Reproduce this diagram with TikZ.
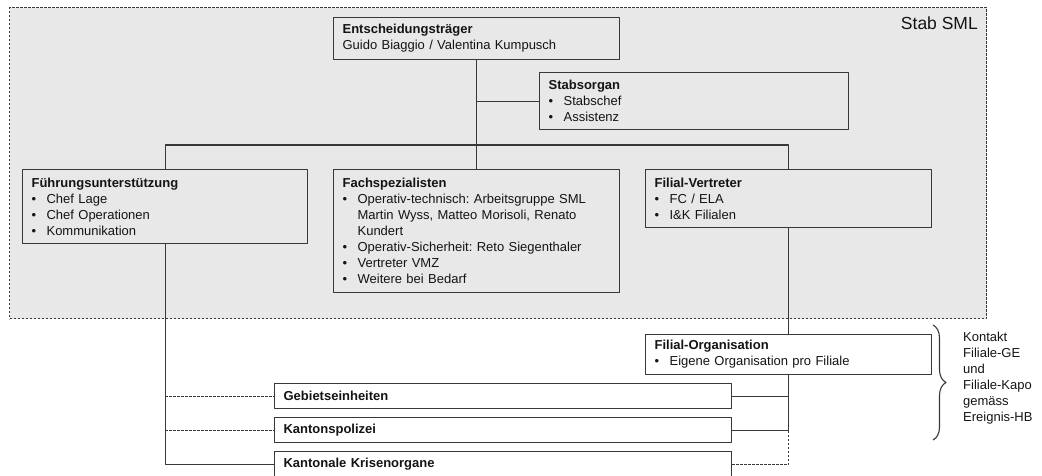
\documentclass[tikz,border=0pt]{standalone}
\usepackage{fontspec}
\setmainfont{Liberation Sans}
\usetikzlibrary{decorations.pathreplacing}
\definecolor{stabgrau}{HTML}{E8E8E8}
\definecolor{strich}{HTML}{383838}
\definecolor{schrift}{HTML}{141414}
\newcommand{\punkt}{\makebox[15pt][l]{\textbullet}}
\newcommand{\weiter}{\hspace*{15pt}}
\frenchspacing
\begin{document}
\begin{tikzpicture}[x=1pt, y=-1pt, line join=round, text=schrift,
	font=\fontsize{13}{16}\selectfont,
	kasten/.style={draw=strich, line width=1.2pt, anchor=north west, align=left, inner xsep=9pt, inner ysep=0pt},
	linie/.style={draw=strich, line width=1.1pt},
	gestrichelt/.style={linie, dash pattern=on 2.4pt off 1.6pt}]
	%Bildgröße.
	\useasboundingbox (0,0) rectangle (1042,475);
	%Stab SML.
	\node[draw=strich, fill=stabgrau, line width=1.2pt, dash pattern=on 2.4pt off 1.6pt, anchor=north west, inner sep=0pt, minimum width=977, minimum height=311] (stabsml) at (9,7) {};
	\node[anchor=east, inner sep=3pt, font=\fontsize{17.5}{20}\selectfont] (stabname) at (981,23) {Stab SML};
	%Kästen im Stab.
	\node[kasten, text width=268, minimum height=42] (ent) at (333,17) {\textbf{Entscheidungsträger}\\Guido Biaggio / Valentina Kumpusch};
	\node[kasten, text width=291, minimum height=57] (stabsorgan) at (539,72) {\textbf{Stabsorgan}\\\punkt Stabschef\\\punkt Assistenz};
	\node[kasten, text width=267, minimum height=74] (fuehr) at (22,169) {\textbf{Führungsunterstützung}\\\punkt Chef Lage\\\punkt Chef Operationen\\\punkt Kommunikation};
	\node[kasten, text width=268, minimum height=123] (fach) at (333,169) {\textbf{Fachspezialisten}\\\punkt Operativ-technisch: Arbeitsgruppe SML\\\weiter Martin Wyss, Matteo Morisoli, Renato\\\weiter Kundert\\\punkt Operativ-Sicherheit: Reto Siegenthaler\\\punkt Vertreter VMZ\\\punkt Weitere bei Bedarf};
	\node[kasten, text width=268, minimum height=58] (filv) at (645,169) {\textbf{Filial-Vertreter}\\\punkt FC / ELA\\\punkt I\&K Filialen};
	%Kästen unten.
	\node[kasten, fill=white, text width=268, minimum height=40] (filorg) at (645,334) {\textbf{Filial-Organisation}\\\punkt Eigene Organisation pro Filiale};
	\node[kasten, fill=white, text width=439, minimum height=25] (geb) at (274,383) {\textbf{Gebietseinheiten}};
	\node[kasten, fill=white, text width=439, minimum height=25] (kapo) at (274,417) {\textbf{Kantonspolizei}};
	\node[kasten, fill=white, text width=439, minimum height=26] (krise) at (274,451) {\textbf{Kantonale Krisenorgane}};
	%Verbindungen.
	\coordinate (bus) at (476,145);
	\draw[linie] (ent.south) -- (fach.north);
	\draw[linie] (ent.south |- stabsorgan.west) -- (stabsorgan.west);
	\draw[linie] (fuehr.north) |- (bus) -| (filv.north);
	\draw[linie] (filv.south) -- (filorg.north);
	\draw[linie] (fuehr.south) |- (krise.west);
	\draw[gestrichelt] (fuehr.south |- geb.west) -- (geb.west);
	\draw[gestrichelt] (fuehr.south |- kapo.west) -- (kapo.west);
	\draw[linie] (geb.east) -| (filorg.south);
	\draw[linie] (kapo.east) -| (filorg.south);
	\draw[gestrichelt] (krise.east) -| (filorg.south |- kapo.east);
	%Klammer und Kontakt.
	\coordinate (klammeroben) at (933,325);
	\coordinate (klammerunten) at (933,440);
	\draw[linie, decorate, decoration={brace, amplitude=13pt, aspect=0.5}] (klammeroben) -- (klammerunten);
	\node[anchor=west, align=left, inner sep=0pt] (kontakt) at (963,378) {Kontakt\\Filiale-GE\\und\\Filiale-Kapo\\gemäss\\Ereignis-HB};
\end{tikzpicture}
\end{document}
